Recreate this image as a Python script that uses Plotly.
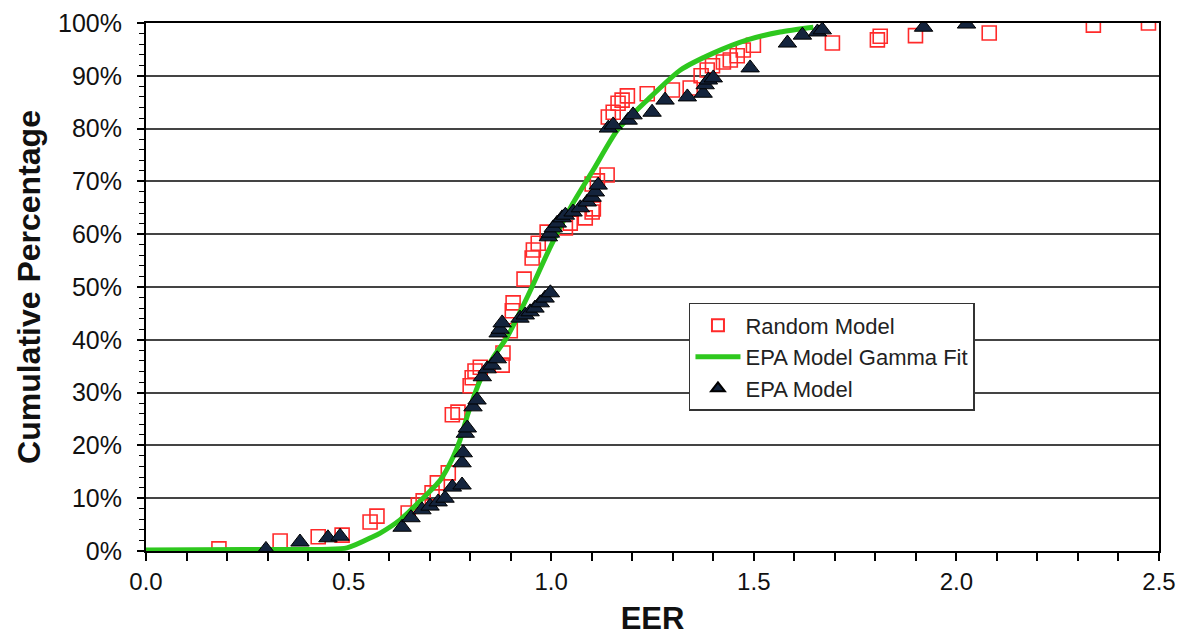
import plotly.graph_objects as go

# ---- Data ----
random_x = [0.180, 0.331, 0.425, 0.484, 0.553, 0.570, 0.647, 0.672, 0.684, 0.706,
            0.719, 0.746, 0.756, 0.770, 0.800, 0.805, 0.812, 0.825, 0.879, 0.881,
            0.899, 0.904, 0.906, 0.933, 0.953, 0.956, 0.968, 0.990, 1.035, 1.047,
            1.084, 1.101, 1.104, 1.101, 1.114, 1.138, 1.141, 1.153, 1.165, 1.175,
            1.188, 1.237, 1.299, 1.343, 1.370, 1.385, 1.398, 1.425, 1.442, 1.459,
            1.474, 1.499, 1.694, 1.805, 1.812, 1.899, 2.081, 2.338, 2.474]
random_pct = [0.4, 1.9, 2.7, 3.0, 5.5, 6.6, 7.2, 8.7, 9.5, 11.0,
              12.9, 14.8, 25.8, 26.3, 31.3, 32.8, 34.1, 34.8, 35.2, 37.5,
              41.7, 45.5, 47.0, 51.5, 55.5, 57.0, 58.3, 60.4, 61.2, 62.1,
              63.1, 64.2, 64.8, 69.5, 70.1, 71.2, 82.2, 83.1, 84.8, 85.4,
              86.2, 86.6, 87.3, 87.7, 90.0, 91.1, 91.9, 92.6, 93.0, 93.8,
              94.9, 95.8, 96.2, 96.8, 97.5, 97.6, 98.1, 99.6, 100.0]

epa_x = [0.296, 0.380, 0.449, 0.479, 0.632, 0.654, 0.681, 0.701, 0.721, 0.738,
         0.756, 0.780, 0.780, 0.783, 0.788, 0.793, 0.807, 0.817, 0.830, 0.842,
         0.854, 0.867, 0.869, 0.874, 0.879, 0.923, 0.936, 0.948, 0.960, 0.973,
         0.985, 0.998, 0.993, 0.998, 1.005, 1.015, 1.027, 1.035, 1.054, 1.072,
         1.089, 1.101, 1.109, 1.116, 1.141, 1.153, 1.190, 1.202, 1.249, 1.281,
         1.336, 1.375, 1.380, 1.388, 1.400, 1.491, 1.583, 1.620, 1.657, 1.669,
         1.919, 2.025]
epa_pct = [0.3, 1.7, 2.5, 2.8, 4.5, 6.3, 7.8, 8.5, 9.3, 10.0,
           12.1, 12.5, 16.7, 18.6, 22.3, 23.3, 27.3, 28.6, 33.0, 34.5,
           35.2, 36.4, 41.3, 42.0, 43.2, 44.1, 44.7, 45.3, 46.0, 47.0,
           47.9, 48.9, 59.5, 60.2, 61.2, 62.1, 63.1, 63.6, 64.2, 65.0,
           66.1, 67.0, 68.0, 69.3, 80.1, 80.7, 81.6, 82.6, 83.1, 85.4,
           86.0, 86.7, 88.3, 89.2, 89.6, 91.5, 96.2, 97.7, 98.3, 98.7,
           99.2, 99.8]

fit_x = [0.0, 0.25, 0.496, 0.56, 0.578, 0.627, 0.677, 0.726, 0.758, 0.775,
         0.795, 0.825, 0.857, 0.891, 0.941, 0.998, 1.054, 1.104, 1.163, 1.237,
         1.319, 1.400, 1.484, 1.565, 1.647]
fit_pct = [0.2, 0.3, 0.6, 2.7, 3.4, 5.9, 9.5, 13.4, 17.8, 21.0,
           26.1, 32.4, 36.7, 40.5, 48.1, 57.6, 65.9, 72.2, 79.7, 85.4,
           91.1, 94.3, 96.8, 98.3, 99.2]

x_ticks = [0.0, 0.5, 1.0, 1.5, 2.0, 2.5]
x_tick_labels = ["0.0", "0.5", "1.0", "1.5", "2.0", "2.5"]
y_ticks = list(range(0, 101, 10))
y_tick_labels = [f"{v}%" for v in y_ticks]

FONT = "Liberation Sans, Arial, sans-serif"

fig = go.Figure()
fig.add_trace(go.Scatter(
    x=random_x, y=random_pct, mode="markers", name="Random Model",
    marker=dict(symbol="square-open", size=14, color="#ff2a2a",
                line=dict(width=1.6, color="#ff2a2a")),
))
fig.add_trace(go.Scatter(
    x=fit_x, y=fit_pct, mode="lines", name="EPA Model Gamma Fit",
    line=dict(color="#2ec81e", width=5, shape="spline", smoothing=0.6),
))
fig.add_trace(go.Scatter(
    x=epa_x, y=epa_pct, mode="markers", name="EPA Model",
    marker=dict(symbol="triangle-up", size=16, color="#14243d",
                line=dict(width=1, color="#000000")),
))

fig.update_layout(
    width=1185, height=636,
    margin=dict(l=146, r=26, t=23, b=85, autoexpand=False),
    paper_bgcolor="white", plot_bgcolor="white",
    font=dict(family=FONT, size=22, color="#111111"),
    showlegend=True,
    legend=dict(
        x=0.536, y=0.47, xanchor="left", yanchor="top",
        bgcolor="white", bordercolor="#333333", borderwidth=1.5,
        font=dict(family=FONT, size=22, color="#222222"),
        itemsizing="constant", itemwidth=45, tracegroupgap=0,
    ),
    xaxis=dict(
        range=[0, 2.5], tickvals=x_ticks, ticktext=x_tick_labels,
        showgrid=False, zeroline=False, automargin=False,
        showline=True, linecolor="black", linewidth=2, mirror=True,
        ticks="outside", ticklen=8, tickwidth=1.5, tickcolor="black",
        minor=dict(dtick=0.1, ticks="outside", ticklen=8, tickwidth=1.5, tickcolor="black"),
        tickfont=dict(size=24),
        title=dict(text="EER", font=dict(size=31, weight="bold", color="#111111"), standoff=16),
    ),
    yaxis=dict(
        range=[0, 100], tickvals=y_ticks, ticktext=y_tick_labels,
        showgrid=True, gridcolor="#444444", gridwidth=1.8, zeroline=False, automargin=False,
        showline=True, linecolor="black", linewidth=2, mirror=True,
        ticks="outside", ticklen=7, tickwidth=1.5, tickcolor="black",
        minor=dict(dtick=2, ticks="outside", ticklen=5, tickwidth=1, tickcolor="black", showgrid=False),
        tickfont=dict(size=25), ticklabelstandoff=10,
        title=dict(text="Cumulative Percentage", font=dict(size=32, weight="bold", color="#111111"), standoff=8),
    ),
)

fig.write_html("out.html")
